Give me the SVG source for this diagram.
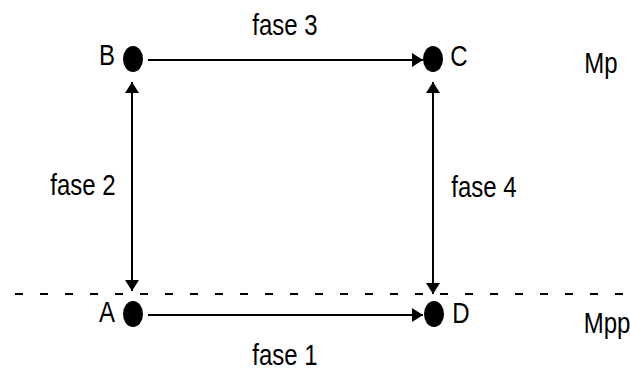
<svg xmlns="http://www.w3.org/2000/svg" width="630" height="371" viewBox="0 0 630 371">
<style>
.t{font-family:"Liberation Sans",Arial,sans-serif;font-size:24px;fill:#000;text-anchor:middle}
.ln{stroke:#000;stroke-width:2;fill:none}
.dot{fill:#000}
</style>
<defs>
<marker id="ah" markerUnits="userSpaceOnUse" markerWidth="12" markerHeight="14" refX="11" refY="7" orient="auto-start-reverse">
<path d="M0,0 L11,7 L0,14 z" fill="#000"/>
</marker>
</defs>
<rect width="630" height="371" fill="#fff"/>
<g id="connectors">
<line class="ln" x1="148" y1="60" x2="423" y2="60" marker-end="url(#ah)"/>
<line class="ln" x1="148" y1="315" x2="423" y2="315" marker-end="url(#ah)"/>
<line class="ln" x1="132" y1="82" x2="132" y2="291" marker-start="url(#ah)" marker-end="url(#ah)"/>
<line class="ln" x1="433" y1="82" x2="433" y2="294" marker-start="url(#ah)" marker-end="url(#ah)"/>
<line stroke="#000" stroke-width="2" x1="0" y1="294" x2="630" y2="294" stroke-dasharray="8 17" stroke-dashoffset="10"/>
</g>
<g id="B"><ellipse class="dot" cx="133" cy="59" rx="10" ry="13"/><text class="t" transform="translate(107,65) scale(1,1.25)">B</text></g>
<g id="C"><ellipse class="dot" cx="433" cy="59" rx="10" ry="13"/><text class="t" transform="translate(459,66) scale(1,1.25)">C</text></g>
<g id="A"><ellipse class="dot" cx="133" cy="314" rx="10" ry="13"/><text class="t" transform="translate(107,322) scale(1,1.25)">A</text></g>
<g id="D"><ellipse class="dot" cx="434" cy="314" rx="10" ry="13"/><text class="t" transform="translate(461,323) scale(1,1.25)">D</text></g>
<g id="labels">
<text class="t" transform="translate(285,35) scale(1,1.25)">fase 3</text>
<text class="t" transform="translate(83,195) scale(1,1.25)">fase 2</text>
<text class="t" transform="translate(484,197) scale(1,1.25)">fase 4</text>
<text class="t" transform="translate(285,365) scale(1,1.25)">fase 1</text>
<text class="t" transform="translate(601,73) scale(1,1.25)">Mp</text>
<text class="t" transform="translate(607,333) scale(1,1.25)">Mpp</text>
</g>
</svg>
